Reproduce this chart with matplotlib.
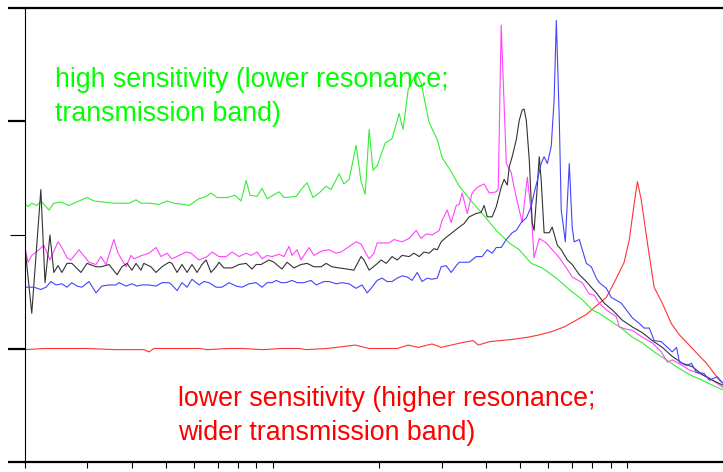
import matplotlib
matplotlib.use("Agg")
import matplotlib.pyplot as plt
from matplotlib.ticker import FixedLocator, NullLocator, NullFormatter

plt.rcParams['font.family'] = ['Liberation Sans', 'DejaVu Sans']

# === DATI (frequenza in Hz, livello in unita' arbitrarie) ===

green_f = [20.0, 20.4, 20.9, 21.62, 22.17, 23.37, 24.12, 25.26, 26.62, 27.47, 28.41, 29.94, 31.29,
           33.38, 35.63, 38.02, 39.33, 41.17, 42.5, 44.79, 47.8, 50.37, 52.64, 56.18, 58.1, 62.0,
           64.92, 67.02, 69.73, 74.42, 78.4, 81.46, 84.22, 86.4, 90.46, 93.37, 96.53, 104.4, 107.7,
           116.6, 121.1, 125.2, 130.1, 135.3, 141.7, 146.3, 154.1, 159.0, 164.5, 172.2, 177.8, 182.6,
           187.4, 192.1, 197.4, 208.0, 217.5, 227.8, 233.6, 241.5, 254.4, 262.7, 276.8, 291.8, 301.2,
           319.3, 336.5, 366.0, 390.7, 428.3, 465.9, 497.2, 537.4, 577.2, 632.8, 688.3, 748.7, 799.1,
           836.7, 893.0, 965.1, 1037, 1106, 1195, 1294, 1382, 1503, 1634, 1793, 1950]
green_y = [22.8, 22.5, 22.8, 22.6, 23.0, 22.2, 22.8, 22.9, 22.6, 22.8, 23.0, 23.3, 23.0,
           22.9, 22.8, 22.8, 22.8, 23.1, 22.8, 22.8, 22.7, 23.0, 22.8, 22.7, 22.6, 23.2,
           23.4, 23.7, 23.3, 23.3, 23.5, 23.0, 24.8, 23.5, 23.4, 24.1, 23.2, 23.8, 23.3,
           23.4, 24.1, 24.6, 23.3, 23.7, 24.3, 24.0, 25.4, 24.5, 24.9, 27.9, 24.7, 23.6,
           29.3, 25.7, 26.1, 28.1, 28.5, 30.7, 29.3, 32.8, 34.3, 33.4, 29.9, 28.4, 26.8,
           25.6, 24.3, 22.9, 21.9, 20.4, 19.3, 18.7, 17.5, 17.1, 16.2, 15.2, 14.3, 13.4,
           13.1, 12.5, 11.8, 11.0, 10.5, 9.7, 9.0, 8.4, 7.7, 7.2, 6.6, 6.1]

magenta_f = [20.0, 20.4, 20.9, 21.9, 22.6, 23.52, 24.79, 25.42, 26.28, 26.95, 28.41, 30.32, 31.74,
             32.76, 33.87, 35.63, 36.61, 38.58, 39.83, 40.58, 42.77, 44.79, 46.89, 48.41, 50.37,
             51.99, 54.44, 57.0, 58.84, 62.0, 65.35, 67.45, 70.62, 73.94, 76.82, 80.44, 84.22,
             86.93, 90.46, 93.37, 96.53, 99.65, 104.4, 107.7, 111.3, 113.5, 117.3, 120.3, 126.8,
             130.9, 137.9, 144.5, 151.2, 156.1, 161.3, 172.2, 177.8, 182.6, 187.4, 193.3, 197.4,
             203.8, 213.4, 220.2, 232.1, 243.1, 254.4, 262.7, 271.6, 282.1, 295.5, 301.2, 311.3,
             319.3, 330.1, 336.5, 343.0, 354.6, 366.0, 378.5, 395.6, 409.1, 428.3, 433.8, 442.1,
             457.1, 471.9, 480.8, 497.2, 506.7, 524.0, 537.4, 547.6, 566.4, 592.9, 616.0, 645.1,
             675.3, 701.6, 748.7, 784.1, 809.2, 836.7, 876.1, 935.0, 953.1, 997.8, 1037, 1106,
             1181, 1252, 1303, 1345, 1436, 1503, 1604, 1712, 1862, 1950]
magenta_y = [18.9, 17.6, 18.2, 18.7, 19.1, 17.8, 19.4, 18.9, 18.0, 17.8, 18.7, 17.6, 17.4,
             18.1, 17.4, 19.6, 18.4, 17.2, 18.2, 17.9, 18.2, 18.4, 18.9, 18.1, 18.4,
             17.9, 18.2, 18.5, 18.4, 17.8, 18.1, 18.5, 18.1, 18.1, 18.5, 18.1, 18.4,
             18.2, 18.5, 17.9, 18.2, 18.1, 18.3, 18.1, 19.0, 18.2, 18.7, 17.8, 18.9,
             18.2, 18.6, 18.7, 18.4, 18.5, 18.8, 19.4, 19.2, 18.5, 17.9, 18.4, 19.3,
             19.3, 19.3, 19.6, 19.4, 19.7, 20.4, 19.7, 20.1, 20.0, 20.4, 21.3, 22.2,
             21.1, 22.6, 22.7, 23.7, 21.9, 23.7, 24.2, 24.5, 23.7, 23.8, 24.1, 38.5,
             26.3, 25.5, 24.2, 22.2, 21.1, 25.1, 22.0, 18.0, 19.7, 19.3, 18.7, 18.0,
             17.1, 16.3, 15.8, 14.8, 14.7, 14.0, 13.4, 12.8, 11.9, 11.7, 11.6, 11.0,
             10.5, 9.7, 8.8, 9.0, 8.5, 8.1, 7.8, 7.4, 6.6, 6.3]

black_f = [20.0, 20.9, 22.17, 22.78, 23.52, 24.12, 24.79, 25.42, 26.28, 27.13, 28.77, 29.94, 31.74,
           32.76, 34.53, 36.38, 37.55, 38.83, 40.08, 41.17, 42.5, 43.31, 45.35, 46.89, 48.72, 51.01,
           51.99, 53.75, 55.49, 57.37, 59.22, 61.22, 63.19, 64.92, 67.02, 69.28, 70.62, 72.88, 76.82,
           80.44, 84.22, 87.49, 89.87, 92.77, 97.77, 100.9, 106.3, 109.9, 114.9, 120.3, 125.2, 130.9,
           137.1, 141.7, 147.2, 154.1, 162.4, 169.7, 177.8, 181.2, 187.4, 196.2, 202.5, 209.4, 217.5,
           224.9, 232.1, 243.1, 250.8, 259.4, 267.7, 276.8, 285.7, 291.8, 299.3, 309.3, 321.3, 336.5,
           347.3, 359.1, 376.0, 388.2, 395.6, 403.9, 416.9, 428.3, 442.1, 450.5, 460.0, 465.9, 474.9,
           487.8, 497.2, 506.7, 513.1, 520.6, 530.7, 540.8, 547.6, 555.6, 566.4, 573.5, 584.5, 604.5,
           616.0, 636.9, 653.3, 679.7, 701.6, 734.7, 769.2, 799.1, 820.8, 863.5, 910.2, 971.4, 1037,
           1106, 1181, 1260, 1345, 1436, 1532, 1634, 1745, 1862, 1950]
black_y = [18.9, 13.1, 24.0, 15.8, 20.0, 16.7, 17.3, 16.7, 17.5, 17.5, 16.7, 17.5, 17.2,
           17.2, 17.4, 16.5, 17.2, 17.5, 16.9, 17.5, 16.9, 17.5, 17.2, 16.7, 17.2, 17.6,
           17.5, 16.7, 17.4, 16.7, 17.4, 16.7, 17.4, 17.8, 16.7, 17.2, 17.6, 17.1, 17.1,
           17.4, 17.5, 17.0, 17.4, 17.4, 17.8, 17.6, 17.0, 17.6, 17.1, 17.4, 17.5, 17.2,
           17.2, 17.5, 17.2, 17.1, 17.0, 16.9, 18.1, 17.8, 16.9, 17.4, 17.8, 17.5, 18.1,
           17.8, 18.2, 18.1, 18.4, 18.1, 18.5, 18.4, 18.8, 18.7, 19.4, 19.8, 20.2, 20.7,
           21.0, 21.6, 21.9, 22.0, 22.6, 21.6, 21.6, 22.5, 24.2, 24.9, 24.4, 26.0, 26.9,
           28.4, 30.1, 31.0, 31.1, 30.1, 26.6, 21.1, 20.4, 23.1, 26.9, 24.8, 20.2, 20.2,
           20.7, 19.1, 18.7, 17.8, 17.4, 16.5, 15.9, 15.3, 14.9, 14.0, 13.4, 12.5, 11.9,
           11.4, 10.7, 10.1, 9.3, 8.7, 8.4, 7.7, 7.2, 6.8, 6.3]

blue_f = [20.0, 21.18, 22.17, 22.93, 23.67, 24.47, 25.42, 26.28, 27.13, 28.05, 28.96, 30.32, 31.74,
          32.97, 34.53, 36.14, 36.85, 38.58, 40.08, 41.43, 42.77, 44.79, 46.89, 48.72, 51.01, 51.99,
          53.75, 55.49, 57.37, 59.22, 62.0, 63.98, 66.18, 69.28, 71.98, 75.37, 78.91, 81.98, 85.85,
          89.87, 93.37, 96.53, 99.65, 102.4, 105.7, 109.2, 113.5, 117.3, 122.6, 128.4, 132.8, 139.7,
          144.5, 151.2, 157.1, 164.5, 172.2, 178.9, 185.0, 190.9, 197.4, 203.8, 210.7, 217.5, 224.9,
          232.1, 240.0, 247.7, 256.1, 264.4, 273.3, 282.1, 291.8, 299.3, 309.3, 319.3, 330.1, 336.5,
          347.3, 359.1, 376.0, 390.7, 403.9, 416.9, 428.3, 442.1, 457.1, 474.9, 487.8, 503.6, 520.6,
          537.4, 547.6, 559.2, 573.5, 584.5, 596.8, 612.1, 623.7, 632.8, 645.1, 653.3, 670.9, 688.3,
          701.6, 710.4, 734.7, 769.2, 794.1, 820.8, 836.7, 876.1, 904.3, 965.1, 997.8, 1037, 1086,
          1120, 1158, 1195, 1252, 1303, 1345, 1382, 1409, 1475, 1522, 1573, 1655, 1712, 1766, 1804,
          1862, 1950]
blue_y = [15.4, 15.4, 15.2, 15.4, 15.9, 15.6, 15.7, 15.4, 15.8, 15.5, 15.4, 15.9, 14.9,
          15.5, 15.6, 15.6, 15.8, 15.5, 15.7, 15.5, 15.6, 15.6, 15.5, 15.8, 15.8, 15.6,
          15.1, 15.8, 15.4, 16.1, 15.6, 15.9, 15.8, 15.4, 15.4, 15.8, 15.5, 15.4, 15.7,
          15.8, 15.4, 15.8, 15.8, 16.0, 15.8, 15.8, 16.0, 15.8, 15.8, 16.0, 15.6, 15.9,
          15.9, 15.7, 15.8, 15.7, 15.3, 15.6, 14.9, 15.4, 16.0, 16.2, 15.9, 15.9, 16.2,
          16.4, 16.3, 16.0, 16.7, 15.9, 16.2, 16.1, 16.2, 17.2, 17.3, 16.7, 17.3, 17.6,
          17.6, 17.6, 18.1, 18.1, 18.7, 18.4, 18.9, 18.9, 19.6, 20.2, 20.4, 21.1, 21.5,
          22.5, 23.7, 24.8, 26.3, 26.9, 26.3, 27.8, 31.9, 38.9, 30.1, 22.2, 19.4, 26.3,
          20.7, 19.4, 19.6, 17.5, 17.2, 16.2, 15.8, 15.3, 14.5, 14.0, 13.4, 12.7, 12.2,
          11.8, 11.8, 10.7, 10.6, 10.1, 9.7, 10.1, 8.8, 8.5, 8.7, 7.9, 7.8, 7.2, 7.4, 7.5,
          7.0, 6.6]

red_f = [20.0, 22.78, 29.94, 36.14, 43.31, 44.79, 46.22, 51.99, 62.4, 65.35, 74.9, 81.98, 93.95,
         105.7, 118.8, 124.4, 142.6, 171.1, 176.7, 187.4, 224.9, 241.5, 257.8, 282.1, 299.3, 340.8,
         368.3, 380.9, 409.1, 474.9, 527.3, 566.4, 616.0, 665.6, 720.7, 769.2, 809.2, 876.1, 921.6,
         983.5, 1017, 1050, 1072, 1099, 1144, 1195, 1260, 1336, 1409, 1532, 1679, 1827, 1950]
red_y = [9.9, 10.0, 10.0, 9.9, 9.9, 9.7, 10.0, 10.0, 10.0, 9.9, 10.0, 10.0, 9.9,
         10.0, 10.0, 9.9, 10.0, 10.3, 10.2, 10.0, 10.0, 10.3, 10.1, 10.4, 10.1, 10.5,
         10.7, 10.3, 10.6, 10.8, 11.0, 11.2, 11.5, 11.9, 12.5, 13.0, 13.6, 14.5, 15.8,
         17.6, 19.6, 22.8, 24.7, 23.1, 19.3, 15.4, 14.0, 12.2, 11.2, 10.0, 8.7, 7.2, 6.5]

x_ticks = [20, 30, 40, 50, 60, 70, 80, 90, 100, 200, 300, 400, 500, 600, 700, 800, 900, 1000]

# === GRAFICO ===

fig = plt.figure(figsize=(7.23, 4.72), dpi=100)
ax = fig.add_axes([25 / 723, 10 / 472, 698 / 723, 454 / 472])

lw = 0.8
ax.plot(red_f, red_y, color='#ff3333', lw=lw)
ax.plot(green_f, green_y, color='#33ee33', lw=lw)
ax.plot(magenta_f, magenta_y, color='#ff44ff', lw=lw)
ax.plot(black_f, black_y, color='#333333', lw=lw)
ax.plot(blue_f, blue_y, color='#4444ff', lw=lw)

ax.set_xscale('log')
ax.set_xlim(20, 1870)
ax.set_ylim(0, 40)

ax.xaxis.set_major_locator(FixedLocator(x_ticks))
ax.xaxis.set_minor_locator(NullLocator())
ax.xaxis.set_major_formatter(NullFormatter())
ax.yaxis.set_major_locator(FixedLocator([0, 10, 30, 40]))
ax.yaxis.set_minor_locator(FixedLocator([20]))
ax.yaxis.set_major_formatter(NullFormatter())

ax.tick_params(axis='x', which='major', direction='out', length=4.3, width=0.8)
ax.tick_params(axis='y', which='major', direction='out', length=12.2, width=1.6)
ax.tick_params(axis='y', which='minor', direction='out', length=10.8, width=0.8)

ax.spines['right'].set_visible(False)
ax.spines['left'].set_linewidth(0.8)
ax.spines['top'].set_linewidth(1.6)
ax.spines['bottom'].set_linewidth(1.6)

fig.text(55 / 723, 1 - 67 / 472, "high sensitivity (lower resonance;\ntransmission band)",
         color='#00ff00', fontsize=19.3, va='top', ha='left', linespacing=1.42)
fig.text(178 / 723, 1 - 386 / 472, "lower sensitivity (higher resonance;\nwider transmission band)",
         color='#ff0000', fontsize=19.3, va='top', ha='left', linespacing=1.42)

fig.savefig('out.png', dpi=100)
